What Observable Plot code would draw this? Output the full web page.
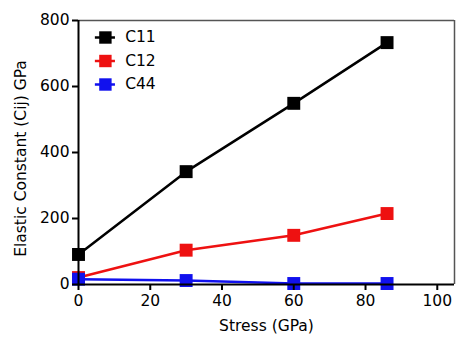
<!DOCTYPE html>
<html>
<head>
<meta charset="utf-8">
<script src="https://cdn.jsdelivr.net/npm/d3@7"></script>
<script src="https://cdn.jsdelivr.net/npm/@observablehq/plot@0.6"></script>
<style>
  html, body { margin: 0; padding: 0; background: #fff; }
  #chart svg { display: block; }
</style>
</head>
<body>
<div id="chart"></div>
<script>
const stress = [0, 30, 60, 86];
const c11 = [91, 342, 549, 733];
const c12 = [21, 104, 149, 215];
const c44 = [16, 12, 3, 3];
const seriesNames = ["C11", "C12", "C44"];
const seriesColors = ["#000000", "#ee1111", "#1111ee"];
const xTicks = [0, 20, 40, 60, 80, 100];
const yTicks = [0, 200, 400, 600, 800];
const xLabel = "Stress (GPa)";
const yLabel = "Elastic Constant (Cij) GPa";

const seriesValues = [c11, c12, c44];
const data = [];
seriesNames.forEach((name, s) => {
  stress.forEach((x, i) => data.push({series: name, x, y: seriesValues[s][i]}));
});

const font = "DejaVu Sans, Verdana, sans-serif";
const legendMarks = seriesNames.flatMap((name, i) => [
  Plot.ruleY([800], {x1: 4.7, x2: 10.3, dy: 17 + i * 23.5, stroke: seriesColors[i], strokeWidth: 2.5}),
  Plot.dot([name], {x: 7.5, y: 800, dy: 17 + i * 23.5, symbol: "square", r: 7, fill: seriesColors[i], stroke: "none"}),
  Plot.text([name], {x: 13, y: 800, dy: 17 + i * 23.5, text: d => d, textAnchor: "start", fill: "#000", fontSize: 15.5, fontFamily: font})
]);

const plot = Plot.plot({
  width: 456,
  height: 344,
  marginLeft: 78,
  marginRight: 2,
  marginTop: 20,
  marginBottom: 60,
  style: {fontFamily: font, fontSize: "15.5px", color: "#000", background: "#fff"},
  x: {domain: [0, 104.8], ticks: xTicks, label: null},
  y: {domain: [0, 800], ticks: yTicks, label: null},
  color: {domain: seriesNames, range: seriesColors},
  marks: [
    Plot.ruleY([800], {stroke: "#555", strokeWidth: 1.5}),
    Plot.ruleX([104.8], {stroke: "#555", strokeWidth: 1.5}),
    Plot.line(data, {x: "x", y: "y", z: "series", stroke: "series", strokeWidth: 2.5}),
    Plot.dot(data, {x: "x", y: "y", fill: "series", symbol: "square", r: 7.3, stroke: "none"}),
    Plot.axisX({ticks: xTicks, tickSize: 6, tickPadding: 4, fontSize: 15.5, strokeWidth: 2, label: null}),
    Plot.axisY({ticks: yTicks, tickSize: 6, tickPadding: 3, fontSize: 15.5, strokeWidth: 2, label: null}),
    Plot.ruleY([0], {stroke: "#000", strokeWidth: 2}),
    Plot.ruleX([0], {stroke: "#000", strokeWidth: 2}),
    Plot.text([xLabel], {frameAnchor: "bottom", textAnchor: "middle", dy: 46, text: d => d, fontSize: 15.5, fontFamily: font, fill: "#000"}),
    Plot.text([yLabel], {frameAnchor: "left", textAnchor: "middle", dx: -57, dy: 6, rotate: -90, text: d => d, fontSize: 15.5, fontFamily: font, fill: "#000"}),
    ...legendMarks
  ]
});
document.getElementById("chart").appendChild(plot);
</script>
</body>
</html>
